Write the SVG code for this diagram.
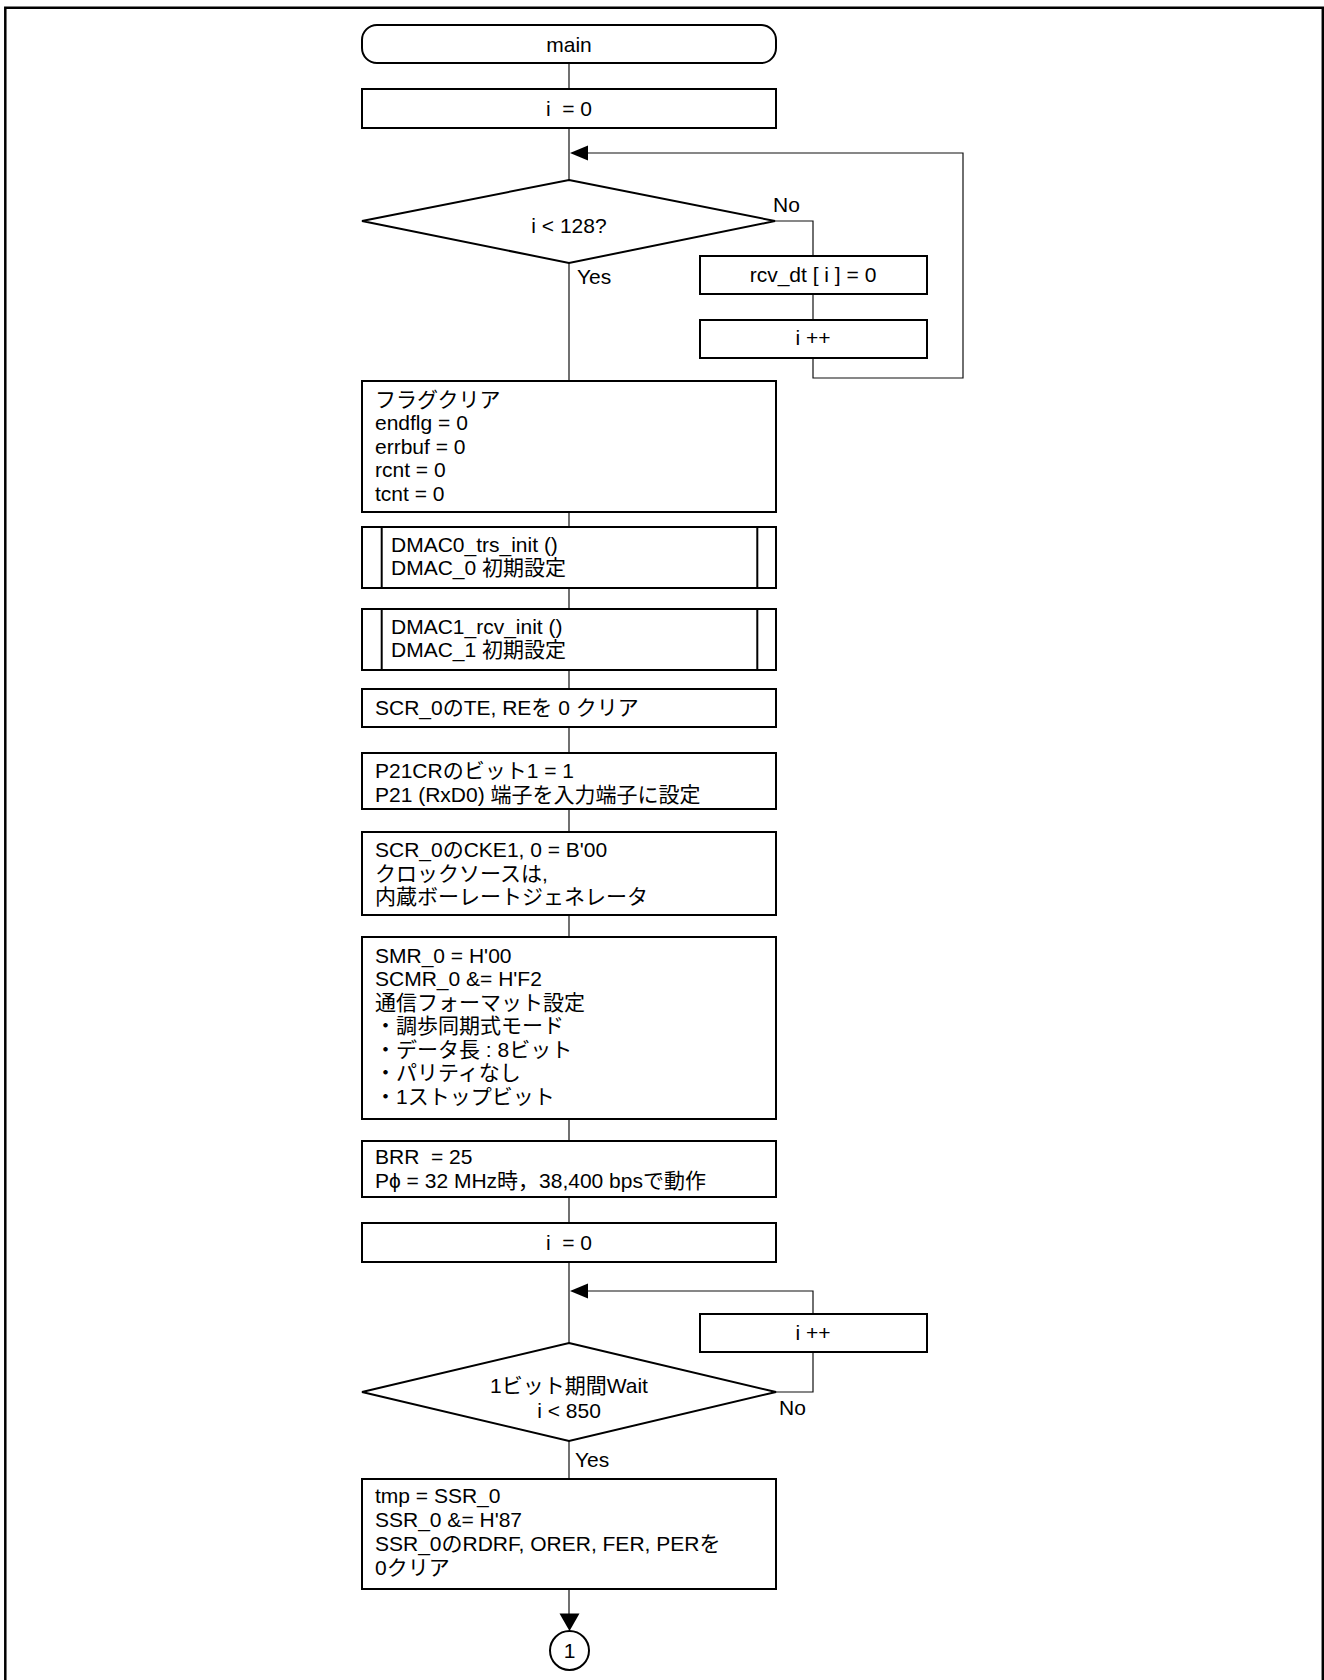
<svg xmlns="http://www.w3.org/2000/svg" width="1324" height="1680" viewBox="0 0 1324 1680">
<style>
.box{fill:#fff;stroke:#000;stroke-width:2}
.ln{fill:none;stroke:#111;stroke-width:1.2}
.ah{fill:#000;stroke:none}
.t{font-family:"Liberation Sans","Noto Sans CJK JP",sans-serif;font-size:21px;fill:#000}
.c{text-anchor:middle}
.frame{fill:none;stroke:#000;stroke-width:2.5}
</style>
<rect x="0" y="0" width="1324" height="1680" fill="#fff"/>
<path class="frame" d="M5.3,1682 V7.8 H1322.8 V1682"/>

<g id="connectors">
  <path class="ln" d="M569,63 V89"/>
  <path class="ln" d="M569,128 V180"/>
  <path class="ln" d="M775,221 H813 V256"/>
  <path class="ln" d="M813,294 V320"/>
  <path class="ln" d="M813,358 V378 H963 V153 H586"/>
  <polygon class="ah" points="570,153 588,145.5 588,160.5"/>
  <path class="ln" d="M569,263 V381"/>
  <path class="ln" d="M569,512 V527"/>
  <path class="ln" d="M569,588 V609"/>
  <path class="ln" d="M569,670 V689"/>
  <path class="ln" d="M569,727 V753"/>
  <path class="ln" d="M569,809 V832"/>
  <path class="ln" d="M569,915 V937"/>
  <path class="ln" d="M569,1119 V1141"/>
  <path class="ln" d="M569,1197 V1223"/>
  <path class="ln" d="M569,1262 V1343"/>
  <path class="ln" d="M776,1392 H813 V1352"/>
  <path class="ln" d="M813,1314 V1291 H586"/>
  <polygon class="ah" points="570,1291 588,1283.5 588,1298.5"/>
  <path class="ln" d="M569,1441 V1479"/>
  <path class="ln" d="M569,1589 V1615"/>
  <polygon class="ah" points="569.5,1631 559.5,1613.5 579.5,1613.5"/>
  <text class="t" x="773" y="212">No</text>
  <text class="t" x="577" y="284">Yes</text>
  <text class="t" x="779" y="1415">No</text>
  <text class="t" x="575" y="1467">Yes</text>
</g>

<g id="n_main">
  <rect class="box" x="362" y="25" width="414" height="38" rx="15" ry="15"/>
  <text class="t c" x="569" y="52">main</text>
</g>
<g id="n_i0a">
  <rect class="box" x="362" y="89" width="414" height="39"/>
  <text class="t c" x="569" y="116" xml:space="preserve">i  = 0</text>
</g>
<g id="n_dec1">
  <polygon class="box" points="569,180 775,221 569,263 362,221"/>
  <text class="t c" x="569" y="233">i &lt; 128?</text>
</g>
<g id="n_rcv">
  <rect class="box" x="700" y="256" width="227" height="38"/>
  <text class="t c" x="813" y="282">rcv_dt [ i ] = 0</text>
</g>
<g id="n_inc1">
  <rect class="box" x="700" y="320" width="227" height="38"/>
  <text class="t c" x="813" y="345">i ++</text>
</g>
<g id="n_flag">
  <rect class="box" x="362" y="381" width="414" height="131"/>
  <text class="t" x="375" y="406.5">フラグクリア</text>
  <text class="t" x="375" y="430">endflg = 0</text>
  <text class="t" x="375" y="453.5">errbuf = 0</text>
  <text class="t" x="375" y="477">rcnt = 0</text>
  <text class="t" x="375" y="500.5">tcnt = 0</text>
</g>
<g id="n_dmac0">
  <rect class="box" x="362" y="527" width="414" height="61"/>
  <path class="box" d="M381.7,527 V588 M757.3,527 V588"/>
  <text class="t" x="391" y="551.5">DMAC0_trs_init ()</text>
  <text class="t" x="391" y="575">DMAC_0 初期設定</text>
</g>
<g id="n_dmac1">
  <rect class="box" x="362" y="609" width="414" height="61"/>
  <path class="box" d="M381.7,609 V670 M757.3,609 V670"/>
  <text class="t" x="391" y="633.5">DMAC1_rcv_init ()</text>
  <text class="t" x="391" y="657">DMAC_1 初期設定</text>
</g>
<g id="n_scr">
  <rect class="box" x="362" y="689" width="414" height="38"/>
  <text class="t" x="375" y="715" xml:space="preserve">SCR_0のTE, REを 0 クリア</text>
</g>
<g id="n_p21">
  <rect class="box" x="362" y="753" width="414" height="56"/>
  <text class="t" x="375" y="778">P21CRのビット1 = 1</text>
  <text class="t" x="375" y="801.5">P21 (RxD0) 端子を入力端子に設定</text>
</g>
<g id="n_cke">
  <rect class="box" x="362" y="832" width="414" height="83"/>
  <text class="t" x="375" y="857">SCR_0のCKE1, 0 = B'00</text>
  <text class="t" x="375" y="880.5">クロックソースは,</text>
  <text class="t" x="375" y="904">内蔵ボーレートジェネレータ</text>
</g>
<g id="n_smr">
  <rect class="box" x="362" y="937" width="414" height="182"/>
  <text class="t" x="375" y="962.5">SMR_0 = H'00</text>
  <text class="t" x="375" y="986">SCMR_0 &amp;= H'F2</text>
  <text class="t" x="375" y="1009.5">通信フォーマット設定</text>
  <text class="t" x="375" y="1033">・調歩同期式モード</text>
  <text class="t" x="375" y="1056.5">・データ長 : 8ビット</text>
  <text class="t" x="375" y="1080">・パリティなし</text>
  <text class="t" x="375" y="1103.5">・1ストップビット</text>
</g>
<g id="n_brr">
  <rect class="box" x="362" y="1141" width="414" height="56"/>
  <text class="t" x="375" y="1164" xml:space="preserve">BRR  = 25</text>
  <text class="t" x="375" y="1188">Pϕ = 32 MHz時，38,400 bpsで動作</text>
</g>
<g id="n_i0b">
  <rect class="box" x="362" y="1223" width="414" height="39"/>
  <text class="t c" x="569" y="1250" xml:space="preserve">i  = 0</text>
</g>
<g id="n_inc2">
  <rect class="box" x="700" y="1314" width="227" height="38"/>
  <text class="t c" x="813" y="1340">i ++</text>
</g>
<g id="n_dec2">
  <polygon class="box" points="569,1343 776,1392 569,1441 362,1392"/>
  <text class="t c" x="569" y="1393">1ビット期間Wait</text>
  <text class="t c" x="569" y="1418">i &lt; 850</text>
</g>
<g id="n_tmp">
  <rect class="box" x="362" y="1479" width="414" height="110"/>
  <text class="t" x="375" y="1503">tmp = SSR_0</text>
  <text class="t" x="375" y="1527">SSR_0 &amp;= H'87</text>
  <text class="t" x="375" y="1551">SSR_0のRDRF, ORER, FER, PERを</text>
  <text class="t" x="375" y="1575">0クリア</text>
</g>
<g id="n_conn1">
  <circle class="box" cx="569.5" cy="1650.5" r="19.5"/>
  <text class="t c" x="569.5" y="1658">1</text>
</g>
</svg>
